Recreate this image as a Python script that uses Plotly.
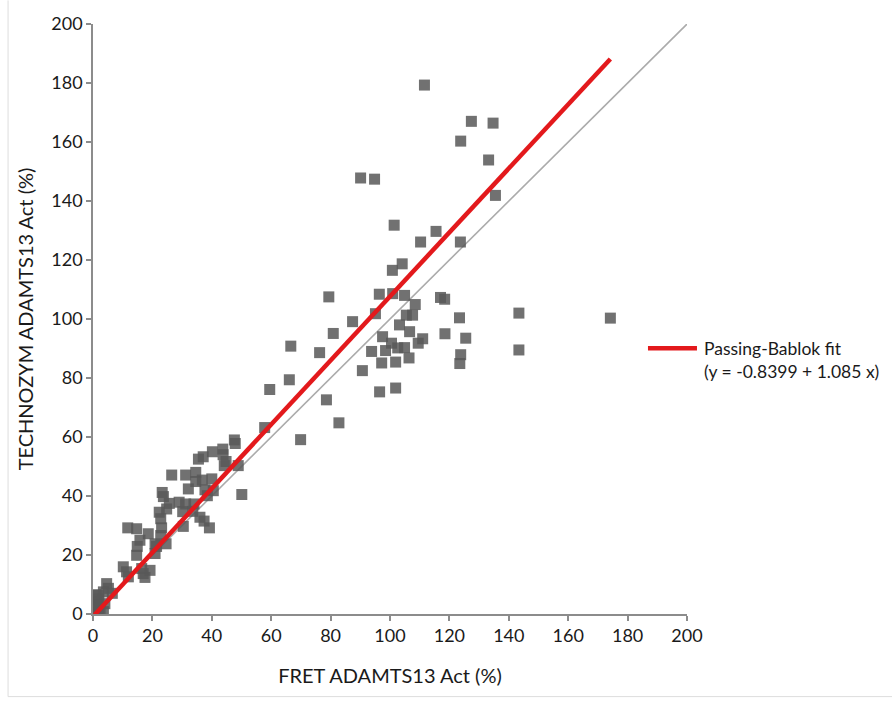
import plotly.graph_objects as go

# FRET ADAMTS13 Act (%) vs TECHNOZYM ADAMTS13 Act (%)
fret_x = [
    111.6, 127.4, 134.7, 123.8, 133.2, 135.5, 90.1, 94.8, 101.4, 110.3, 115.5, 123.7, 104.1, 100.8,
    79.4, 96.4, 100.9, 104.9, 108.5, 95.1, 87.4, 105.5, 107.6, 103.2, 80.9, 106.6, 66.6, 97.5,
    76.3, 93.8, 98.5, 100.5, 102.6, 104.9, 109.5, 111.0, 97.2, 101.9, 106.4, 90.7, 66.1, 78.6,
    96.5, 101.9, 82.8, 69.9, 117.0, 118.4, 123.4, 118.5, 125.5, 123.8, 123.5, 143.4, 143.4, 174.2,
    59.5, 57.8,
    47.6, 47.9, 43.7, 40.2, 37.1, 35.5, 43.8, 44.8, 44.2, 48.9, 26.5, 31.2, 34.6, 36.8, 40.0,
    34.6, 32.1, 37.7, 40.5, 50.1, 23.3, 23.7, 25.7, 29.0, 31.2, 34.0, 38.5, 24.8, 22.3, 30.2,
    33.6, 22.8, 36.0, 37.4, 39.2, 30.4, 23.1, 11.7, 14.7, 22.8, 18.6, 15.8, 14.9, 20.9, 24.6,
    21.4, 14.7, 20.9,
    10.2, 11.3, 16.4, 16.9, 19.2, 11.9, 17.5, 4.6, 5.2, 3.5, 1.8, 1.2, 2.4, 1.8, 3.5, 0.8, 1.0,
    2.0, 6.5, 0.5, 4.0, 1.5,
]
technozym_y = [
    179.3, 167.0, 166.4, 160.3, 153.9, 141.9, 147.8, 147.4, 131.8, 126.1, 129.7, 126.1, 118.7, 116.5,
    107.5, 108.4, 108.6, 108.0, 104.9, 101.8, 99.1, 101.3, 101.3, 98.0, 95.1, 95.7, 90.8, 94.0,
    88.6, 89.0, 89.3, 91.8, 90.2, 90.3, 91.8, 93.3, 85.1, 85.4, 86.8, 82.5, 79.4, 72.6,
    75.3, 76.6, 64.8, 59.1, 107.3, 106.7, 100.4, 95.0, 93.5, 87.9, 84.9, 102.0, 89.5, 100.3,
    76.1, 63.2,
    59.0, 57.8, 55.9, 55.0, 53.3, 52.5, 54.0, 51.7, 50.3, 50.3, 47.1, 47.1, 48.0, 45.4, 45.8,
    44.9, 42.4, 42.1, 41.8, 40.5, 41.2, 39.8, 37.5, 37.9, 37.3, 37.3, 40.1, 35.6, 34.5, 34.7,
    34.8, 32.3, 32.8, 31.5, 29.2, 29.7, 29.2, 29.2, 28.9, 26.6, 27.2, 25.0, 22.9, 23.8, 23.8,
    22.9, 19.9, 20.5,
    16.0, 14.3, 15.4, 13.7, 14.8, 12.6, 12.4, 10.3, 8.7, 7.5, 6.4, 4.1, 1.9, 0.0, 0.8, 2.5, 6.5,
    5.0, 7.0, 0.5, 3.5, 3.0,
]

intercept = -0.8399
slope = 1.085
fit_label = "Passing-Bablok fit<br>(y = -0.8399 + 1.085 x)"

identity_range = [0, 200]
fit_x = [min(fret_x), max(fret_x)]
fit_y = [intercept + slope * v for v in fit_x]

FONT = "Lato, Open Sans, sans-serif"
RED = "#E3191C"

fig = go.Figure()
fig.add_trace(go.Scatter(
    x=identity_range, y=identity_range, mode="lines",
    line=dict(color="#ABABAB", width=1.6), showlegend=False, hoverinfo="skip"))
fig.add_trace(go.Scatter(
    x=fret_x, y=technozym_y, mode="markers",
    marker=dict(symbol="square", size=11, color="rgba(88,88,88,0.85)", line=dict(width=0)),
    showlegend=False))
fig.add_trace(go.Scatter(
    x=fit_x, y=fit_y, mode="lines",
    line=dict(color=RED, width=4.5), name=fit_label, showlegend=False))

axis_common = dict(
    range=[0, 200], dtick=20, showgrid=False, zeroline=False,
    showline=True, linecolor="#8C8C8C", linewidth=1.5,
    ticks="outside", ticklen=5, tickcolor="#8C8C8C", tickwidth=1.5,
    tickfont=dict(family=FONT, size=18, color="#1a1a1a"),
)
fig.update_xaxes(**axis_common,
                 title=dict(text="FRET ADAMTS13 Act (%)", standoff=24,
                            font=dict(family=FONT, size=20, color="#1a1a1a")))
fig.update_yaxes(**axis_common,
                 title=dict(text="TECHNOZYM ADAMTS13 Act (%)", standoff=12,
                            font=dict(family=FONT, size=20, color="#1a1a1a")))

# manual legend entry (line + two-line label), positioned in paper coordinates
fig.update_layout(
    width=892, height=702,
    margin=dict(l=93, r=205, t=20, b=88),
    plot_bgcolor="white", paper_bgcolor="white",
    showlegend=False,
    shapes=[
        dict(type="line", xref="paper", yref="paper", x0=-0.143, x1=-0.143, y0=-0.14, y1=1.04,
             line=dict(color="#DDDDDD", width=1)),
        dict(type="line", xref="paper", yref="paper", x0=-0.143, x1=1.35, y0=-0.14, y1=-0.14,
             line=dict(color="#DDDDDD", width=1)),
        dict(type="line", xref="paper", yref="paper", x0=0.9343, x1=1.0168, y0=0.4503, y1=0.4503,
             line=dict(color=RED, width=4.5)),
    ],
    annotations=[
        dict(text=fit_label, xref="paper", yref="paper", x=1.0253, y=0.4300,
             xanchor="left", yanchor="middle", align="left", showarrow=False,
             font=dict(family=FONT, size=17.5, color="#1a1a1a")),
    ],
)

fig.write_html("out.html")
